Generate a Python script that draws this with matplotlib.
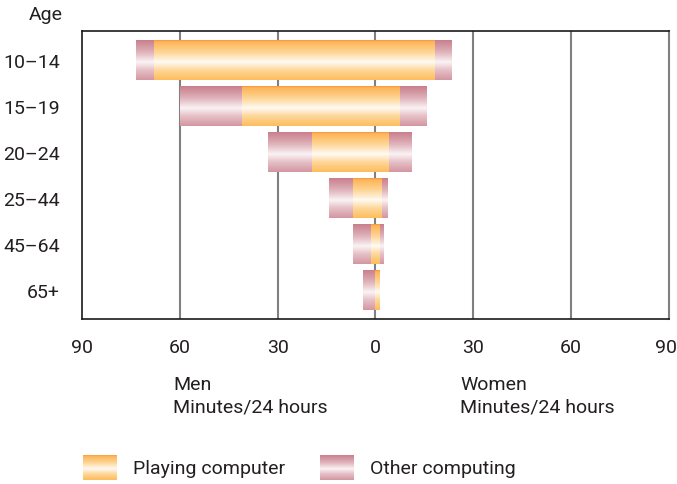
import numpy as np
import matplotlib
matplotlib.use("Agg")
import matplotlib.pyplot as plt
from matplotlib.colors import LinearSegmentedColormap
from matplotlib.transforms import ScaledTranslation

plt.rcParams['font.family'] = ['Roboto', 'DejaVu Sans']

# ─── Datos (minutos por 24 horas) ─────────────────────────────────
ages = ["10–14", "15–19", "20–24", "25–44", "45–64", "65+"]
men_playing = [68, 41, 19.5, 7, 1.5, 0.3]
men_other = [5.3, 19, 13.5, 7.3, 5.5, 3.6]
women_playing = [18.2, 7.5, 4, 2, 1.5, 1.3]
women_other = [5.2, 8.2, 6.8, 1.8, 1.2, 0]
ticks = [-90, -60, -30, 0, 30, 60, 90]

TXT = "#231f20"
GRID = "#808080"
FS = 14

# degradé vertical tipo cilindro
cm_play = LinearSegmentedColormap.from_list(
    "play", [(0, "#f79a45"), (0.04, "#fdb658"), (0.3, "#fed596"),
             (0.55, "#fffaf2"), (0.75, "#fed89c"), (1, "#fdbd5c")])
cm_other = LinearSegmentedColormap.from_list(
    "other", [(0, "#c9808d"), (0.3, "#e0b3bb"), (0.55, "#faf3f5"),
              (0.75, "#e6c1c8"), (1, "#d497a2")])
grad = np.linspace(0, 1, 64).reshape(-1, 1)

fig = plt.figure(figsize=(6.77, 4.85), dpi=100)
ax = fig.add_axes([0.1211, 0.3402, 0.8671, 0.5938])

h = 0.85


def bar(x0, x1, y, cmap):
    if x1 == x0:
        return
    ax.imshow(grad, cmap=cmap, aspect="auto", interpolation="bilinear",
              extent=[x0, x1, y + h / 2, y - h / 2], origin="upper", zorder=3)


for i in range(len(ages)):
    bar(-men_playing[i] - men_other[i], -men_playing[i], i, cm_other)
    bar(-men_playing[i], 0, i, cm_play)
    bar(0, women_playing[i], i, cm_play)
    bar(women_playing[i], women_playing[i] + women_other[i], i, cm_other)

ax.set_xlim(-90, 90)
ax.set_ylim(len(ages) - 1 + 0.63, -0.63)

for t in ticks[1:-1]:
    ax.axvline(t, color=GRID, lw=1.5, zorder=1)

ax.set_xticks(ticks)
ax.set_xticklabels([str(abs(t)) for t in ticks])
ax.set_yticks(range(len(ages)))
ax.set_yticklabels(ages)
ax.tick_params(length=0, labelsize=FS, colors=TXT)
ax.tick_params(axis="x", pad=14)
ax.tick_params(axis="y", pad=16)

# el último 90 pegado al borde derecho
last = ax.get_xticklabels()[-1]
last.set_ha("right")
last.set_transform(last.get_transform() + ScaledTranslation(0.08, 0, fig.dpi_scale_trans))

for s in ["left", "top", "bottom"]:
    ax.spines[s].set_color("#1a1a1a")
    ax.spines[s].set_linewidth(1.2)
ax.spines["right"].set_color(GRID)
ax.spines["right"].set_linewidth(1.5)

fig.text(63 / 677, 1 - 15 / 485, "Age", ha="right", va="center", fontsize=FS, color=TXT)
fig.text(173 / 677, 1 - 376 / 485, "Men\nMinutes/24 hours", ha="left", va="top",
         fontsize=FS, color=TXT, linespacing=1.3)
fig.text(460 / 677, 1 - 376 / 485, "Women\nMinutes/24 hours", ha="left", va="top",
         fontsize=FS, color=TXT, linespacing=1.3)

# leyenda
for x, cmap, label in [(83, cm_play, "Playing computer"), (320, cm_other, "Other computing")]:
    la = fig.add_axes([x / 677, 1 - 481 / 485, 34 / 677, 25 / 485])
    la.imshow(grad, cmap=cmap, aspect="auto", interpolation="bilinear")
    la.axis("off")
    fig.text((x + 50) / 677, 1 - 469 / 485, label, ha="left", va="center",
             fontsize=FS, color=TXT)

fig.savefig("out.png", dpi=100)
